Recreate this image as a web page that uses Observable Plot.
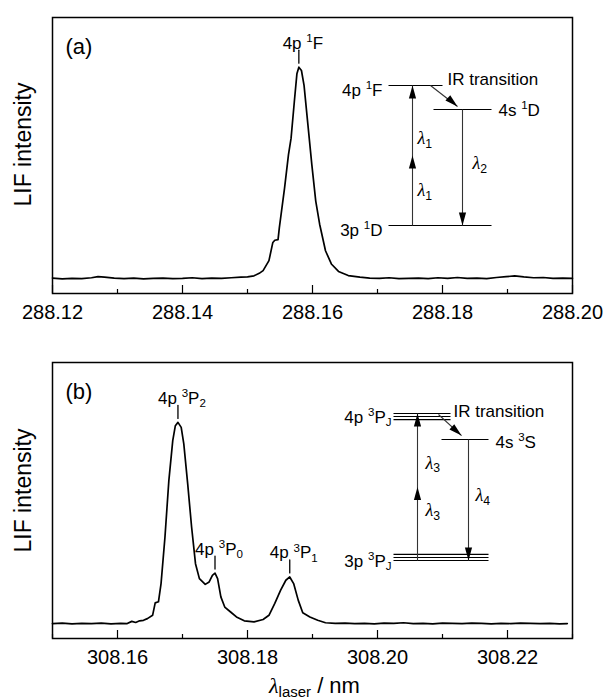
<!DOCTYPE html>
<html><head><meta charset="utf-8">
<script src="https://cdn.jsdelivr.net/npm/d3@7"></script>
<script src="https://cdn.jsdelivr.net/npm/@observablehq/plot@0.6"></script>
<style>
body{margin:0;background:#fff;}
#wrap{position:relative;width:605px;height:700px;font-family:"Liberation Sans",Arial,sans-serif;}
#wrap svg{position:absolute;left:0;overflow:visible;}
</style></head><body><div id="wrap"></div>
<script>
// ---------- Panel (a) spectrum ----------
const wavelengthA = [288.1200,288.1215,288.1230,288.1245,288.1260,288.1270,288.1280,288.1295,288.1310,288.1325,288.1340,288.1355,288.1370,288.1385,288.1400,288.1415,288.1430,288.1445,288.1460,288.1475,288.1490,288.1500,288.1510,288.1518,288.1524,288.1533,288.1539,288.1542,288.1547,288.1549,288.1557,288.1563,288.1567,288.1572,288.1576,288.1579,288.1583,288.1587,288.1593,288.1599,288.1605,288.1611,288.1620,288.1629,288.1640,288.1655,288.1673,288.1688,288.1703,288.1718,288.1733,288.1748,288.1763,288.1778,288.1793,288.1808,288.1823,288.1838,288.1853,288.1868,288.1883,288.1898,288.1911,288.1925,288.1940,288.1955,288.1970,288.1985,288.2000];
const intensityA = [5.6,5.3,5.5,5.4,5.7,6.1,5.9,5.6,5.4,5.6,5.3,5.5,5.6,5.4,5.5,5.7,5.4,5.6,5.5,5.7,5.9,6.0,6.4,7.3,8.3,11.9,18.5,19.3,19.5,23.9,38.2,50.2,56.2,69.4,79.6,82.0,80.8,75.4,61.0,46.6,33.5,25.1,15.5,10.7,8.0,6.5,5.9,5.6,5.5,5.7,5.4,5.5,5.6,5.4,5.7,5.5,5.8,5.5,5.6,5.4,5.8,6.1,6.4,6.0,5.7,5.8,5.5,5.6,5.5];
const majorTicksA = [288.12,288.14,288.16,288.18,288.20];
const minorTicksA = [288.13,288.15,288.17,288.19];
const peakXA = [288.1579];
const peakYA = [82.0];
const peakLabelA = ["4p ^{1}F"];

// ---------- Panel (b) spectrum ----------
const wavelengthB = [308.1500,308.1515,308.1530,308.1545,308.1560,308.1575,308.1590,308.1605,308.1615,308.1622,308.1628,308.1634,308.1640,308.1646,308.1654,308.1658,308.1663,308.1667,308.1673,308.1679,308.1685,308.1689,308.1693,308.1698,308.1702,308.1708,308.1714,308.1720,308.1726,308.1735,308.1741,308.1746,308.1750,308.1754,308.1759,308.1765,308.1774,308.1783,308.1795,308.1810,308.1824,308.1833,308.1842,308.1851,308.1859,308.1865,308.1871,308.1878,308.1885,308.1896,308.1908,308.1920,308.1935,308.1950,308.1965,308.1980,308.1995,308.2010,308.2025,308.2040,308.2055,308.2070,308.2085,308.2100,308.2115,308.2130,308.2145,308.2160,308.2175,308.2190,308.2205,308.2220,308.2235,308.2250,308.2265,308.2280,308.2292];
const intensityB = [5.4,5.6,5.3,5.5,5.4,5.6,5.3,5.5,5.4,6.2,5.8,6.4,6.6,7.2,8.4,12.9,13.3,19.9,36.7,57.2,71.7,77.1,78.3,76.5,70.5,56.0,40.4,27.1,21.7,19.6,20.5,22.9,23.7,21.7,15.1,11.4,9.6,7.8,6.4,6.0,6.9,8.4,12.7,17.5,21.1,22.3,19.9,13.9,9.3,7.8,6.6,5.7,5.5,5.6,5.4,5.5,5.3,5.6,5.5,5.7,5.4,5.5,5.3,5.6,5.5,5.4,5.6,5.5,5.3,5.5,5.4,5.6,5.5,5.4,5.5,5.3,5.4];
const majorTicksB = [308.16,308.18,308.20,308.22];
const minorTicksB = [308.15,308.17,308.19,308.21,308.23];
const peakXB = [308.1693,308.1750,308.1865];
const peakYB = [78.3,23.7,22.3];
const peakLabelB = ["4p ^{3}P_{2}","4p ^{3}P_{0}","4p ^{3}P_{1}"];

// ---------- Energy-level diagram (a) ----------
const levelNameA = ["4p ^{1}F","4s ^{1}D","3p ^{1}D"];
const levelEnergyA = [2, 1.657, 0];
const levelStartA = [0, 45, 0];
const levelEndA = [54, 103, 103];
const transLabelA = ["λ_{1}","λ_{1}","λ_{2}"];

// ---------- Energy-level diagram (b) ----------
const levelNameB = ["4p ^{3}P_{J}","4s ^{3}S","3p ^{3}P_{J}"];
const subLevelEnergyB = [2, 1.959, 1.918, 1.646, 0.082, 0.041, 0];
const subLevelStartB = [0, 0, 0, 48, 0, 0, 0];
const subLevelEndB = [57, 57, 57, 95, 95, 95, 95];
const transLabelB = ["λ_{3}","λ_{3}","λ_{4}"];

const FONT = "Liberation Sans, Arial, sans-serif";
const stem = {draw(ctx, l) { ctx.moveTo(0, 0); ctx.lineTo(0, -l); }};

function richText(svg) {
  d3.select(svg).selectAll("text").each(function() {
    const el = this;
    if (el.querySelector("tspan")) return;
    const s = el.textContent;
    if (!/[\^_]\{|λ/.test(s)) return;
    el.textContent = "";
    const parts = s.split(/(\^\{[^}]*\}|_\{[^}]*\}|λ)/g).filter(p => p !== "");
    let shift = 0;
    for (const p of parts) {
      const t = document.createElementNS("http://www.w3.org/2000/svg", "tspan");
      let target = 0, size = 1, txt = p;
      if (p.startsWith("^{")) { target = 0.4; size = 0.68; txt = p.slice(2, -1); }
      else if (p.startsWith("_{")) { target = -0.2; size = 0.68; txt = p.slice(2, -1); }
      else if (p === "λ") { t.setAttribute("font-style", "italic"); t.setAttribute("font-family", "Liberation Serif, serif"); }
      const d = shift - target;
      if (Math.abs(d) > 1e-9) t.setAttribute("dy", (d / size).toFixed(3) + "em");
      if (size !== 1) t.setAttribute("font-size", (size * 100) + "%");
      t.textContent = txt;
      el.appendChild(t);
      shift = target;
    }
  });
}

function panel({xs, ys, domain, major, minor, px, py, pl, tag, height, marginTop, marginBottom, ylDy, xTitle}) {
  const data = xs.map((x, i) => ({x, y: ys[i]}));
  const peaks = px.map((x, i) => ({x, y: py[i], label: pl[i]}));
  const marks = [
    Plot.line(data, {x: "x", y: "y", stroke: "black", strokeWidth: 1.7}),
    Plot.frame({stroke: "black", strokeWidth: 1.5}),
    Plot.axisX({ticks: major, tickSize: -8, tickFormat: () => "", strokeWidth: 1.2, label: null}),
    Plot.axisX({ticks: minor, tickSize: -4, tickFormat: () => "", strokeWidth: 1.2, label: null}),
    Plot.axisX({ticks: major, tickSize: 0, tickPadding: 11, tickFormat: d3.format(".2f"), fontSize: 20, label: null}),
    Plot.vector(peaks, {x: "x", y: "y", length: 13, anchor: "start", shape: stem, dy: -4, stroke: "black", strokeWidth: 1.3}),
    Plot.text(peaks, {x: "x", y: "y", text: "label", dy: -24, dx: 4, fontSize: 17, fill: "black"}),
    Plot.text(["LIF intensity"], {frameAnchor: "left", textAnchor: "middle", lineAnchor: "middle", rotate: -90, dx: -29, dy: ylDy, fontSize: 23, fill: "black"}),
    Plot.text([tag], {frameAnchor: "top-left", textAnchor: "start", lineAnchor: "middle", dx: 13, dy: 29, fontSize: 22, fill: "black"})
  ];
  if (xTitle) marks.push(Plot.text([xTitle], {frameAnchor: "bottom", lineAnchor: "middle", dy: 47, dx: 2, fontSize: 22, fill: "black"}));
  return Plot.plot({
    width: 605, height, marginLeft: 52, marginRight: 33, marginTop, marginBottom,
    x: {domain, label: null},
    y: {domain: [0, 100], axis: null},
    style: {fontFamily: FONT, background: "transparent", overflow: "visible", color: "black"},
    marks
  });
}

function diagram({names, levels, labelEnergy, labelXs, labelOffsets, shafts, heads, trans, xDomain, height, marginLeft, marginRight, marginTop, marginBottom, irX, irDy}) {
  const marks = [
    Plot.link(levels, {x1: "x1", x2: "x2", y1: "e", y2: "e", stroke: "black", strokeWidth: 1.2}),
    Plot.link(shafts, {x1: "x1", y1: "y1", x2: "x2", y2: "y2", stroke: "#333", strokeWidth: 1.1}),
    Plot.vector(heads, {x: "x", y: "y", rotate: "r", length: 13, r: 3.6, shape: "spike", anchor: "end", fill: "black", stroke: "none"}),
    Plot.text(["IR transition"], {x: irX, y: 2, textAnchor: "start", dy: irDy, fontSize: 17, fill: "black"})
  ];
  names.forEach((n, i) => {
    const [anchor, dx, dy] = labelOffsets[i];
    marks.push(Plot.text([n], {x: labelXs[i], y: labelEnergy[i], textAnchor: anchor, dx, dy, fontSize: 17, fill: "black"}));
  });
  trans.forEach(t => {
    marks.push(Plot.text([t.label], {x: t.x, y: t.y, textAnchor: "start", dx: t.dx, fontSize: 18, fill: "black"}));
  });
  return Plot.plot({
    width: 605, height, marginLeft, marginRight, marginTop, marginBottom,
    x: {domain: xDomain, axis: null},
    y: {domain: [0, 2], axis: null},
    style: {fontFamily: FONT, background: "transparent", overflow: "visible", color: "black"},
    marks
  });
}

const wrap = document.getElementById("wrap");
function place(svg, top) { svg.style.top = top + "px"; svg.style.background = "transparent"; wrap.appendChild(svg); richText(svg); }

// Panel (a)
place(panel({xs: wavelengthA, ys: intensityA, domain: [288.12, 288.20], major: majorTicksA, minor: minorTicksA,
  px: peakXA, py: peakYA, pl: peakLabelA, tag: "(a)", height: 330, marginTop: 17, marginBottom: 37, ylDy: -11}), 0);

place(diagram({
  names: levelNameA,
  levels: levelEnergyA.map((e, i) => ({e, x1: levelStartA[i], x2: levelEndA[i]})),
  labelEnergy: levelEnergyA, labelXs: [levelStartA[0], levelEndA[1], levelStartA[2]],
  labelOffsets: [["end", -6, 5], ["start", 7, 1], ["end", -6, 5]],
  shafts: [{x1: 24, y1: 0, x2: 24, y2: 2}, {x1: 74, y1: 1.657, x2: 74, y2: 0}, {x1: 42, y1: 2, x2: 69, y2: 1.70}],
  heads: [{x: 24, y: 2, r: 0}, {x: 24, y: 1, r: 0}, {x: 74, y: 0, r: 180}, {x: 69, y: 1.70, r: 132}],
  trans: [{label: transLabelA[0], x: 24, y: 1.24, dx: 5}, {label: transLabelA[1], x: 24, y: 0.5, dx: 5}, {label: transLabelA[2], x: 74, y: 0.886, dx: 10}],
  xDomain: [0, 103], height: 330, marginLeft: 388, marginRight: 114, marginTop: 85, marginBottom: 105, irX: 59, irDy: -6
}), 0);

// Panel (b)
place(panel({xs: wavelengthB, ys: intensityB, domain: [308.15, 308.23], major: majorTicksB, minor: minorTicksB,
  px: peakXB, py: peakYB, pl: peakLabelB, tag: "(b)", height: 370, marginTop: 32, marginBottom: 62, ylDy: -10,
  xTitle: "λ_{laser} / nm"}), 330);

place(diagram({
  names: levelNameB,
  levels: subLevelEnergyB.map((e, i) => ({e, x1: subLevelStartB[i], x2: subLevelEndB[i]})),
  labelEnergy: [subLevelEnergyB[1], subLevelEnergyB[3], subLevelEnergyB[5]],
  labelXs: [0, 95, 0],
  labelOffsets: [["end", -2, 1], ["start", 7, 3], ["end", -2, 4]],
  shafts: [{x1: 24, y1: 0, x2: 24, y2: 2}, {x1: 75, y1: 1.646, x2: 75, y2: 0}, {x1: 45, y1: 1.986, x2: 68, y2: 1.70}],
  heads: [{x: 24, y: 2, r: 0}, {x: 24, y: 1, r: 0}, {x: 75, y: 0, r: 180}, {x: 68, y: 1.70, r: 132}],
  trans: [{label: transLabelB[0], x: 24, y: 1.33, dx: 8}, {label: transLabelB[1], x: 24, y: 0.68, dx: 8}, {label: transLabelB[2], x: 75, y: 0.884, dx: 7}],
  xDomain: [0, 95], height: 370, marginLeft: 393, marginRight: 117, marginTop: 83, marginBottom: 140, irX: 60, irDy: -2
}), 330);
</script></body></html>
